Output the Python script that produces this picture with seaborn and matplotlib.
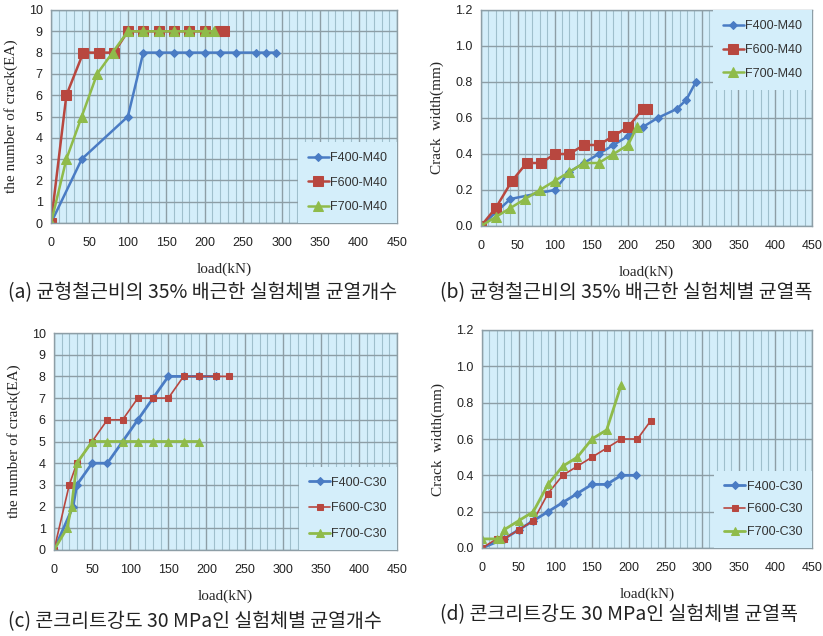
import numpy as np
import matplotlib
matplotlib.use("Agg")
import matplotlib.pyplot as plt
import seaborn as sns
from matplotlib.ticker import MultipleLocator

# --- data ---
# (a), (b): 35% balanced reinforcement ratio, M40
load_m40_f400 = [0, 40, 100, 120, 140, 160, 180, 200, 220, 240, 266, 279, 292]
load_m40_f600 = [0, 20, 42, 62, 82, 100, 120, 140, 160, 180, 200, 220, 225]
load_m40_f700 = [0, 20, 40, 60, 80, 100, 120, 140, 160, 180, 200, 212]

crack_a_f400 = [0, 3, 5, 8, 8, 8, 8, 8, 8, 8, 8, 8, 8]
crack_a_f600 = [0, 6, 8, 8, 8, 9, 9, 9, 9, 9, 9, 9, 9]
crack_a_f700 = [0, 3, 5, 7, 8, 9, 9, 9, 9, 9, 9, 9]

width_b_f400 = [0, 0.15, 0.2, 0.3, 0.35, 0.4, 0.45, 0.5, 0.55, 0.6, 0.65, 0.7, 0.8]
width_b_f600 = [0, 0.1, 0.25, 0.35, 0.35, 0.4, 0.4, 0.45, 0.45, 0.5, 0.55, 0.65, 0.65]
width_b_f700 = [0, 0.05, 0.1, 0.15, 0.2, 0.25, 0.3, 0.35, 0.35, 0.4, 0.45, 0.55]

# (c), (d): concrete strength 30 MPa
load_c_f400 = [0, 25, 30, 50, 70, 90, 110, 130, 150, 170, 190, 212]
load_c_f600 = [0, 20, 30, 50, 70, 90, 110, 130, 150, 170, 190, 212, 230]
load_c_f700 = [0, 17, 23, 30, 50, 70, 90, 110, 130, 150, 170, 190]
crack_c_f400 = [0, 2, 3, 4, 4, 5, 6, 7, 8, 8, 8, 8]
crack_c_f600 = [0, 3, 4, 5, 6, 6, 7, 7, 7, 8, 8, 8, 8]
crack_c_f700 = [0, 1, 2, 4, 5, 5, 5, 5, 5, 5, 5, 5]

load_d_f400 = [0, 30, 50, 70, 90, 110, 130, 150, 170, 190, 210]
load_d_f600 = [0, 20, 30, 50, 70, 90, 110, 130, 150, 170, 190, 212, 230]
load_d_f700 = [0, 20, 25, 30, 50, 70, 90, 110, 130, 150, 170, 190]
width_d_f400 = [0, 0.05, 0.1, 0.15, 0.2, 0.25, 0.3, 0.35, 0.35, 0.4, 0.4]
width_d_f600 = [0, 0.05, 0.05, 0.1, 0.15, 0.3, 0.4, 0.45, 0.5, 0.55, 0.6, 0.6, 0.7]
width_d_f700 = [0.05, 0.05, 0.05, 0.1, 0.15, 0.2, 0.35, 0.45, 0.5, 0.6, 0.65, 0.9]

captions = ["(a) 균형철근비의 35% 배근한 실험체별 균열개수",
            "(b) 균형철근비의 35% 배근한 실험체별 균열폭",
            "(c) 콘크리트강도 30 MPa인 실험체별 균열개수",
            "(d) 콘크리트강도 30 MPa인 실험체별 균열폭"]

BLUE, RED, GREEN = "#4a7cc4", "#b8473f", "#8fbb4a"
BG = "#d4eefa"

sns.set_style("white")
plt.rcParams["font.family"] = ["Liberation Sans", "DejaVu Sans"]

fig = plt.figure(figsize=(8.23, 6.36), dpi=100)
W, H = 823, 636


def make_ax(l, t, r, b):
    return fig.add_axes([l / W, 1 - b / H, (r - l) / W, (b - t) / H])


def style_ax(ax, ymax, ystep, ylabel, yfmt):
    ax.set_facecolor(BG)
    ax.set_xlim(0, 450)
    ax.set_ylim(0, ymax)
    ax.xaxis.set_major_locator(MultipleLocator(50))
    ax.xaxis.set_minor_locator(MultipleLocator(10))
    ax.yaxis.set_major_locator(MultipleLocator(ystep))
    ax.grid(which="major", axis="both", color="#8d9ea6", lw=1.0)
    ax.grid(which="minor", axis="x", color="#9fbfcc", lw=0.8)
    ax.set_axisbelow(True)
    ax.tick_params(which="both", length=0, labelsize=9, colors="#222222")
    ax.tick_params(axis="x", pad=10)
    ax.tick_params(axis="y", pad=6)
    ax.yaxis.set_major_formatter(plt.FuncFormatter(lambda v, p: yfmt.format(v)))
    for s in ax.spines.values():
        s.set_color("#8d9ea6")
        s.set_linewidth(1.0)
    ax.set_xlabel("load(kN)", family="Liberation Serif", fontsize=11, labelpad=10)
    ax.set_ylabel(ylabel, family="Liberation Serif", fontsize=11, labelpad=8)


def draw(ax, x, y, label, color, marker, ms, lw=1.8):
    sns.lineplot(x=x, y=y, ax=ax, label=label, color=color, marker=marker,
                 markersize=ms, markeredgecolor=color, markerfacecolor=color,
                 linewidth=lw, estimator=None, sort=False)


def legend(ax, anchor, loc, spacing):
    leg = ax.legend(loc=loc, bbox_to_anchor=anchor, frameon=True, fontsize=9,
                    facecolor=BG, edgecolor="none", framealpha=1,
                    labelspacing=spacing, handlelength=1.7, handletextpad=0.1,
                    borderpad=0.8, borderaxespad=0, fancybox=False)
    for t in leg.get_texts():
        t.set_color("#333333")


# (a)
ax = make_ax(51, 10, 397, 223)
style_ax(ax, 10, 1, "the number of crack(EA)", "{:.0f}")
draw(ax, load_m40_f400, crack_a_f400, "F400-M40", BLUE, "D", 4)
draw(ax, load_m40_f600, crack_a_f600, "F600-M40", RED, "s", 7)
draw(ax, load_m40_f700, crack_a_f700, "F700-M40", GREEN, "^", 6.5)
legend(ax, (1.0, 0.0), "lower right", 1.0)

# (b)
ax = make_ax(481, 10, 812, 226)
style_ax(ax, 1.2, 0.2, "Crack  width(mm)", "{:.1f}")
draw(ax, load_m40_f400, width_b_f400, "F400-M40", BLUE, "D", 4)
draw(ax, load_m40_f600, width_b_f600, "F600-M40", RED, "s", 7)
draw(ax, load_m40_f700, width_b_f700, "F700-M40", GREEN, "^", 6.5)
legend(ax, (1.0, 1.0), "upper right", 0.95)

# (c)
ax = make_ax(54, 333, 397, 550)
style_ax(ax, 10, 1, "the number of crack(EA)", "{:.0f}")
draw(ax, load_c_f400, crack_c_f400, "F400-C30", BLUE, "D", 4.5, 2.0)
draw(ax, load_c_f600, crack_c_f600, "F600-C30", RED, "s", 4.5, 1.2)
draw(ax, load_c_f700, crack_c_f700, "F700-C30", GREEN, "^", 6, 2.0)
legend(ax, (1.0, 0.0), "lower right", 1.1)

# (d)
ax = make_ax(482, 330, 812, 548)
style_ax(ax, 1.2, 0.2, "Crack  width(mm)", "{:.1f}")
draw(ax, load_d_f400, width_d_f400, "F400-C30", BLUE, "D", 4.5, 2.0)
draw(ax, load_d_f600, width_d_f600, "F600-C30", RED, "s", 4.5, 1.2)
draw(ax, load_d_f700, width_d_f700, "F700-C30", GREEN, "^", 6, 2.0)
legend(ax, (1.0, 0.0), "lower right", 0.85)

# captions
cap_pos = [(8, 293), (440, 293), (8, 622), (440, 615)]
for (cx, cy), txt in zip(cap_pos, captions):
    fig.text(cx / W, 1 - cy / H, txt, ha="left", va="center", fontsize=14,
             family=["Noto Sans CJK KR", "DejaVu Sans"], color="#222222")

fig.savefig("out.png", dpi=100)
